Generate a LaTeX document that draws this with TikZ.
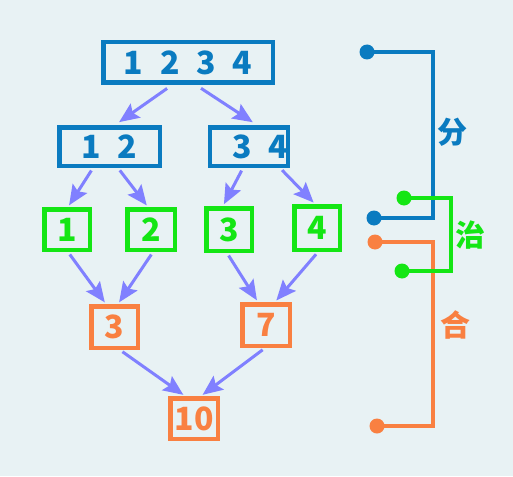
\documentclass[tikz,border=0pt]{standalone}
\usepackage{fontspec}
\setmainfont{Noto Sans CJK SC}
\usetikzlibrary{arrows.meta}
\definecolor{bg}{HTML}{E8F2F4}
\definecolor{cblue}{HTML}{0A7BC0}
\definecolor{cgreen}{HTML}{14E614}
\definecolor{corange}{HTML}{F98041}
\definecolor{carrow}{HTML}{8080FF}
\newcommand\widespaces{\spaceskip=17pt\relax}
\tikzset{
  box/.style={draw, line width=4.5pt, inner sep=0pt, font=\fontsize{32}{34}\selectfont\bfseries, execute at begin node=\widespaces},
  bluebox/.style={box, draw=cblue, text=cblue},
  greenbox/.style={box, draw=cgreen, text=cgreen},
  orangebox/.style={box, draw=corange, text=corange},
  arr/.style={draw=carrow, line width=3pt, -{Stealth[length=20pt,width=17pt,inset=3.5pt]}, shorten <=3pt, shorten >=2pt},
  brk/.style={line width=4.5pt},
  dot/.style={circle, inner sep=0pt, minimum size=15pt},
  lbl/.style={font=\fontsize{30}{32}\selectfont\bfseries}
}
\begin{document}
\begin{tikzpicture}[x=1pt,y=-1pt]
\fill[bg] (0,0) rectangle (513,476);
\useasboundingbox (0,0) rectangle (513,476);
% boxes
\node[bluebox, minimum width=169.5pt, minimum height=40.5pt] (top) at (188,62.5) {1 2 3 4};
\node[bluebox, minimum width=100.5pt, minimum height=38.5pt] (n12) at (109.5,146.5) {1 2};
\node[bluebox, minimum width=77.5pt, minimum height=38.5pt] (n34) at (249,146.5) {\hspace*{22pt}3 4};
\node[greenbox, minimum width=45.5pt, minimum height=40.5pt] (g1) at (67,229.5) {1};
\node[greenbox, minimum width=47.5pt, minimum height=40.5pt] (g2) at (151,229.5) {2};
\node[greenbox, minimum width=45.5pt, minimum height=42.5pt] (g3) at (229,229.5) {3};
\node[greenbox, minimum width=45.5pt, minimum height=43.5pt] (g4) at (317,228) {4};
\node[orangebox, minimum width=46.5pt, minimum height=41.5pt] (o3) at (114.5,327) {3};
\node[orangebox, minimum width=47.5pt, minimum height=41.5pt] (o7) at (266,325) {7};
\node[orangebox, minimum width=47.5pt, minimum height=40.5pt] (o10) at (194,418.5) {10};
% arrows
\draw[arr, shorten <=6pt, shorten >=5pt] ([xshift=-16pt]top.south) -- ([xshift=5.5pt]n12.north);
\draw[arr, shorten <=6pt, shorten >=5pt] ([xshift=8pt]top.south) -- ([xshift=8pt]n34.north);
\draw[arr] ([xshift=-16.5pt]n12.south) -- ([xshift=1pt]g1.north);
\draw[arr] ([xshift=8.5pt]n12.south) -- ([xshift=-3pt]g2.north);
\draw[arr] ([xshift=-6pt]n34.south) -- ([xshift=-6pt]g3.north);
\draw[arr] ([xshift=31pt]n34.south) -- ([xshift=-2pt]g4.north);
\draw[arr] ([xshift=1pt]g1.south) -- ([xshift=-8.5pt]o3.north);
\draw[arr] ([xshift=2pt]g2.south) -- ([xshift=3.5pt]o3.north);
\draw[arr] ([xshift=-2pt]g3.south) -- ([xshift=-8pt]o7.north);
\draw[arr] ([xshift=1pt]g4.south) -- ([xshift=9pt]o7.north);
\draw[arr] ([xshift=5.5pt]o3.south) -- ([xshift=-9pt]o10.north);
\draw[arr] ([xshift=-1pt]o7.south) -- ([xshift=7pt]o10.north);
% brackets
\node[dot, fill=cblue] (b1) at (367,52) {};
\node[dot, fill=cblue] (b2) at (374,218) {};
\draw[brk, cblue] (b1.center) -- (433,52) -- (433,218) -- (b2.center);
\node[dot, fill=corange] (r1) at (375,242) {};
\node[dot, fill=corange] (r2) at (377,426) {};
\draw[brk, corange] (r1.center) -- (433,242) -- (433,426) -- (r2.center);
\node[dot, fill=cgreen] (e1) at (404,198) {};
\node[dot, fill=cgreen] (e2) at (402,271) {};
\draw[brk, cgreen] (e1.center) -- (451,198) -- (451,271) -- (e2.center);
\node[lbl, text=cblue] (lfen) at (452,132) {分};
\node[lbl, text=cgreen] (lzhi) at (470,235) {治};
\node[lbl, text=corange] (lhe) at (455,325) {合};
\end{tikzpicture}
\end{document}
